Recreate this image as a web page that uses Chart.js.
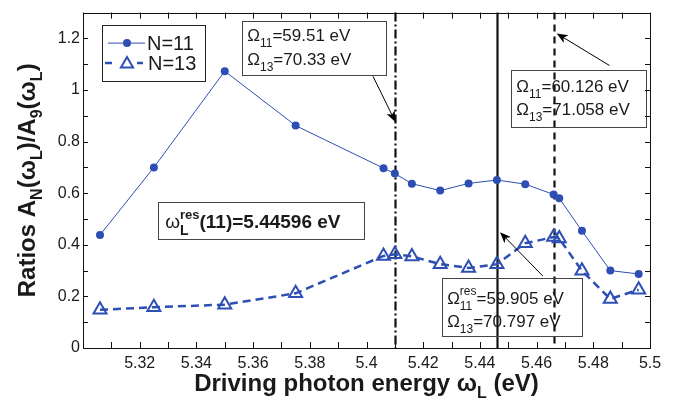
<!DOCTYPE html>
<html><head><meta charset="utf-8">
<script src="https://cdn.jsdelivr.net/npm/chart.js@4.4.1/dist/chart.umd.min.js"></script>
<style>html,body{margin:0;padding:0;background:#fff}#wrap{width:681px;height:401px;position:relative}</style>
</head><body><div id="wrap"><canvas id="c" width="681" height="401"></canvas></div>
<script>
// ---- data ----
const energies = [5.306, 5.325, 5.35, 5.375, 5.406, 5.41, 5.416, 5.426, 5.436, 5.446, 5.456, 5.466, 5.468, 5.476, 5.486, 5.496];
const ratioN11 = [0.438, 0.700, 1.073, 0.862, 0.697, 0.676, 0.637, 0.610, 0.638, 0.651, 0.635, 0.595, 0.580, 0.454, 0.300, 0.287];
const ratioN13 = [0.148, 0.158, 0.168, 0.212, 0.357, 0.363, 0.355, 0.325, 0.310, 0.325, 0.406, 0.430, 0.424, 0.299, 0.190, 0.226];
const seriesNames = ['N=11', 'N=13'];
const xTickLabels = ['5.32','5.34','5.36','5.38','5.4','5.42','5.44','5.46','5.48','5.5'];
const yTickLabels = ['0','0.2','0.4','0.6','0.8','1','1.2'];
const markerEnergies = [5.4102, 5.44596, 5.4663]; // dash-dot, solid, dashed

// ---- styling / annotation config ----
const BLUE = '#2d4fb4';
const FONT = "'Liberation Sans', Arial, sans-serif";
const lineStyles = [[9,3,2,3], [], [7,5]];
const boxes = [
  {x0:5.356, x1:5.4069, y0:1.267, y1:1.057, lines:[['Ω','11',null,'=59.51 eV'],['Ω','13',null,'=70.33 eV']], base:[20,44]},
  {x0:5.4509, x1:5.4986, y0:1.076, y1:0.857, lines:[['Ω','11',null,'=60.126 eV'],['Ω','13',null,'=71.058 eV']], base:[21.5,45]},
  {x0:5.4265, x1:5.4759, y0:0.273, y1:0.050, lines:[['Ω','11','res','=59.905 eV'],['Ω','13',null,'=70.797 eV']], base:[26,49.5]}
];
const arrows = [
  {from:[5.4023,1.053], to:[5.4102,0.876]},
  {from:[5.4857,1.095], to:[5.4671,1.219]},
  {from:[5.4622,0.279], to:[5.4471,0.449]}
];
const resBox = {x0:5.3265, x1:5.3991, y0:0.566, y1:0.424};

function richText(ctx, parts, x, y, align) {
  let w = 0;
  parts.forEach(p => {
    if (p.stack) { let mw = 0; p.stack.forEach(s => { ctx.font = s.f; mw = Math.max(mw, ctx.measureText(s.t).width); }); w += mw; }
    else { ctx.font = p.f; w += ctx.measureText(p.t).width; }
  });
  let cx = align === 'center' ? x - w / 2 : x;
  parts.forEach(p => {
    if (p.stack) {
      let mw = 0;
      p.stack.forEach(s => { ctx.font = s.f; ctx.fillText(s.t, cx, y + s.dy); mw = Math.max(mw, ctx.measureText(s.t).width); });
      cx += mw;
    } else {
      ctx.font = p.f; ctx.fillText(p.t, cx, y + (p.dy || 0)); cx += ctx.measureText(p.t).width;
    }
  });
  return w;
}

function drawArrow(ctx, x1, y1, x2, y2) {
  const ang = Math.atan2(y2 - y1, x2 - x1);
  const L = 11, W = 4.5, back = 3;
  ctx.save();
  ctx.strokeStyle = '#000'; ctx.fillStyle = '#000'; ctx.lineWidth = 1; ctx.setLineDash([]);
  ctx.beginPath(); ctx.moveTo(x1, y1); ctx.lineTo(x2 - Math.cos(ang) * 4, y2 - Math.sin(ang) * 4); ctx.stroke();
  ctx.translate(x2, y2); ctx.rotate(ang);
  ctx.beginPath(); ctx.moveTo(0, 0); ctx.lineTo(-L, -W); ctx.lineTo(-L + back, 0); ctx.lineTo(-L, W); ctx.closePath(); ctx.fill();
  ctx.restore();
}

const overlay = {
  id: 'overlay',
  beforeDatasetsDraw(chart) {
    const {ctx, chartArea: ca, scales: {x}} = chart;
    ctx.save();
    markerEnergies.forEach((e, i) => {
      const px = Math.round(x.getPixelForValue(e)) + 0.5;
      ctx.strokeStyle = '#111'; ctx.lineWidth = 2.2; ctx.setLineDash(lineStyles[i]);
      ctx.beginPath(); ctx.moveTo(px, ca.top); ctx.lineTo(px, ca.bottom); ctx.stroke();
    });
    ctx.restore();
  },
  afterDatasetsDraw(chart) {
    const {ctx, chartArea: ca, scales: {x, y}} = chart;
    ctx.save();
    ctx.textBaseline = 'alphabetic'; ctx.textAlign = 'left';
    // annotation boxes
    boxes.forEach(b => {
      const l = x.getPixelForValue(b.x0), r = x.getPixelForValue(b.x1);
      const t = y.getPixelForValue(b.y0), bt = y.getPixelForValue(b.y1);
      ctx.strokeStyle = '#444'; ctx.lineWidth = 1; ctx.setLineDash([]);
      ctx.strokeRect(Math.round(l) + 0.5, Math.round(t) + 0.5, Math.round(r - l), Math.round(bt - t));
      ctx.fillStyle = '#1a1a1a';
      b.lines.forEach((ln, i) => {
        const parts = [{t: ln[0], f: '17px ' + FONT}];
        const st = [{t: ln[1], f: '12px ' + FONT, dy: 6}];
        if (ln[2]) st.push({t: ln[2], f: '12px ' + FONT, dy: -9});
        parts.push({stack: st});
        parts.push({t: ln[3], f: '17px ' + FONT});
        richText(ctx, parts, l + 5.5, t + b.base[i], 'left');
      });
    });
    arrows.forEach(a => {
      drawArrow(ctx, x.getPixelForValue(a.from[0]), y.getPixelForValue(a.from[1]), x.getPixelForValue(a.to[0]), y.getPixelForValue(a.to[1]));
    });
    // resonance box
    {
      const l = x.getPixelForValue(resBox.x0), r = x.getPixelForValue(resBox.x1);
      const t = y.getPixelForValue(resBox.y0), bt = y.getPixelForValue(resBox.y1);
      ctx.strokeStyle = '#444'; ctx.lineWidth = 1;
      ctx.strokeRect(Math.round(l) + 0.5, Math.round(t) + 0.5, Math.round(r - l), Math.round(bt - t));
      ctx.fillStyle = '#1a1a1a';
      richText(ctx, [
        {t: 'ω', f: '19px ' + FONT},
        {stack: [{t: 'res', f: 'bold 13px ' + FONT, dy: -9}, {t: 'L', f: 'bold 14px ' + FONT, dy: 7}]},
        {t: '(11)=5.44596 eV', f: 'bold 19px ' + FONT}
      ], l + 7, t + 26, 'left');
    }
    // legend
    {
      const lx = ca.left + 19, ly = ca.top + 12, lw = 103, lh = 56;
      ctx.fillStyle = '#fff'; ctx.fillRect(lx, ly, lw, lh);
      ctx.strokeStyle = '#222'; ctx.lineWidth = 1; ctx.setLineDash([]);
      ctx.strokeRect(Math.round(lx) + 0.5, Math.round(ly) + 0.5, lw, lh);
      const r1 = ly + 18.5, r2 = ly + 38.5;
      ctx.strokeStyle = BLUE; ctx.lineWidth = 1;
      ctx.beginPath(); ctx.moveTo(lx + 6, r1); ctx.lineTo(lx + 43, r1); ctx.stroke();
      ctx.fillStyle = BLUE; ctx.beginPath(); ctx.arc(lx + 25, r1, 4, 0, Math.PI * 2); ctx.fill();
      ctx.lineWidth = 2.5;
      ctx.beginPath(); ctx.moveTo(lx + 3, r2); ctx.lineTo(lx + 10, r2); ctx.moveTo(lx + 35, r2); ctx.lineTo(lx + 41, r2); ctx.stroke();
      ctx.lineWidth = 2;
      const tr = 7, tx = lx + 25, ty = r2 + 1;
      ctx.beginPath();
      for (let k = 0; k < 3; k++) { const a = -Math.PI / 2 + k * 2 * Math.PI / 3; const px = tx + Math.cos(a) * tr, py = ty + Math.sin(a) * tr; k ? ctx.lineTo(px, py) : ctx.moveTo(px, py); }
      ctx.closePath(); ctx.stroke();
      ctx.fillStyle = '#1a1a1a'; ctx.font = '20px ' + FONT;
      ctx.fillText(seriesNames[0], lx + 45, r1 + 7);
      ctx.fillText(seriesNames[1], lx + 46, r2 + 7);
    }
    ctx.restore();
  },
  afterDraw(chart) {
    const {ctx, chartArea: ca, scales: {x, y}} = chart;
    ctx.save();
    ctx.strokeStyle = '#111'; ctx.lineWidth = 1; ctx.setLineDash([]);
    ctx.strokeRect(Math.round(ca.left) + 0.5, Math.round(ca.top) + 0.5, Math.round(ca.right - ca.left), Math.round(ca.bottom - ca.top));
    ctx.beginPath();
    x.ticks.forEach(t => {
      const px = Math.round(x.getPixelForValue(t.value)) + 0.5;
      ctx.moveTo(px, ca.bottom); ctx.lineTo(px, ca.bottom - 6);
      ctx.moveTo(px, ca.top); ctx.lineTo(px, ca.top + 6);
    });
    y.ticks.forEach(t => {
      const py = Math.round(y.getPixelForValue(t.value)) + 0.5;
      ctx.moveTo(ca.left, py); ctx.lineTo(ca.left + 5, py);
      ctx.moveTo(ca.right, py); ctx.lineTo(ca.right - 5, py);
    });
    ctx.stroke();
    // axis titles
    ctx.fillStyle = '#1a1a1a'; ctx.textBaseline = 'alphabetic'; ctx.textAlign = 'left';
    const B = 'bold 24px ' + FONT, S = 'bold 16px ' + FONT;
    richText(ctx, [
      {t: 'Driving photon energy ω', f: B},
      {t: 'L', f: S, dy: 7},
      {t: ' (eV)', f: B}
    ], (ca.left + ca.right) / 2, 391, 'center');
    ctx.translate(35, (ca.top + ca.bottom) / 2);
    ctx.rotate(-Math.PI / 2);
    richText(ctx, [
      {t: 'Ratios A', f: B}, {t: 'N', f: S, dy: 7},
      {t: '(ω', f: B}, {t: 'L', f: S, dy: 7},
      {t: ')/A', f: B}, {t: '9', f: S, dy: 7},
      {t: '(ω', f: B}, {t: 'L', f: S, dy: 7},
      {t: ')', f: B}
    ], 0, 0, 'center');
    ctx.restore();
  }
};

new Chart(document.getElementById('c'), {
  type: 'line',
  data: {
    datasets: [
      {label: seriesNames[0], data: energies.map((e, i) => ({x: e, y: ratioN11[i]})),
       borderColor: BLUE, backgroundColor: BLUE, borderWidth: 1, pointRadius: 4, pointStyle: 'circle',
       pointBackgroundColor: BLUE, pointBorderWidth: 0, tension: 0},
      {label: seriesNames[1], data: energies.map((e, i) => ({x: e, y: ratioN13[i]})),
       borderColor: BLUE, backgroundColor: 'rgba(0,0,0,0)', borderWidth: 2.5, borderDash: [8, 5],
       pointRadius: 7.5, pointStyle: 'triangle', pointBorderWidth: 2, pointBorderColor: BLUE,
       pointBackgroundColor: 'rgba(0,0,0,0)', tension: 0}
    ]
  },
  options: {
    responsive: false, animation: false, devicePixelRatio: 1,
    layout: {padding: {top: 8, right: 31, left: 0, bottom: 0}},
    plugins: {legend: {display: false}, tooltip: {enabled: false}},
    scales: {
      x: {type: 'linear', min: 5.3, max: 5.5,
          grid: {display: false, drawTicks: false}, border: {display: false},
          ticks: {stepSize: 0.01, autoSkip: false, maxRotation: 0, padding: 6, color: '#1a1a1a',
                  font: {family: FONT, size: 16},
                  callback: v => { const s = String(parseFloat(Number(v).toFixed(2))); return xTickLabels.includes(s) ? s : ''; }},
          afterFit: s => { s.height = 53; }},
      y: {type: 'linear', min: 0, max: 1.3,
          grid: {display: false, drawTicks: false}, border: {display: false},
          ticks: {stepSize: 0.1, autoSkip: false, padding: 3, color: '#1a1a1a',
                  font: {family: FONT, size: 16},
                  callback: v => { const s = String(parseFloat(Number(v).toFixed(1))); return yTickLabels.includes(s) ? s : ''; }},
          afterFit: s => { s.width = 83; }}
    }
  },
  plugins: [overlay]
});
</script>
</body></html>
